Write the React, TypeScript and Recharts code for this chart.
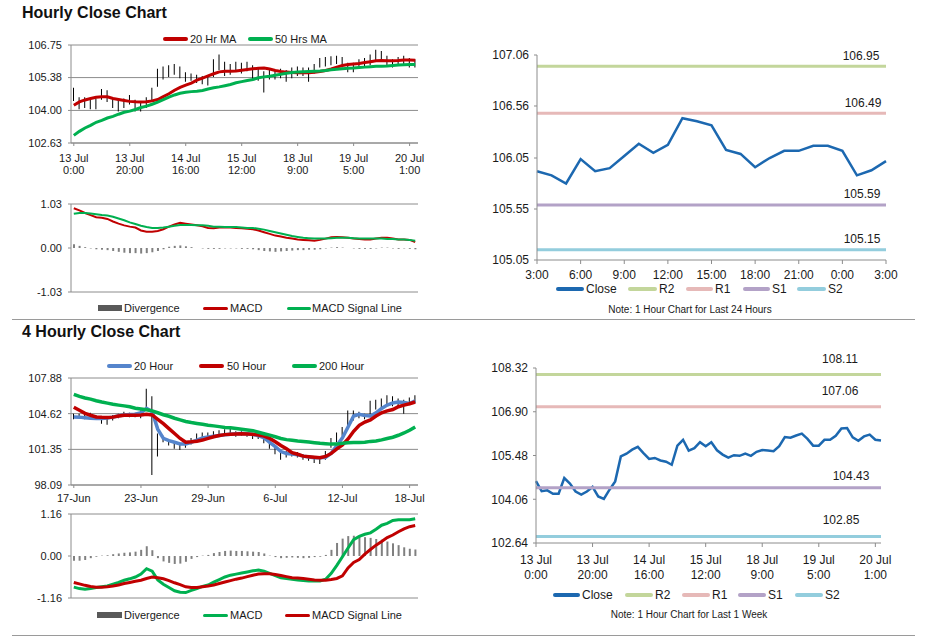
import React from 'react';
import { ComposedChart, LineChart, Line, Bar, XAxis, YAxis, CartesianGrid, ReferenceLine } from 'recharts';

const FONT = 'Arial, "Liberation Sans", Helvetica, sans-serif';
const GRID = '#8c8c8c';
const INK = '#1a1a1a';
const RED = '#c00000';
const GREEN = '#00b050';
const BLUE_MA = '#5585cc';
const CLOSE = '#1c68b0';
const LEVEL_COLORS = ['#c3d69b', '#e6b9b8', '#b3a2c7', '#93cddd'];

// ---- hourly, last week (13 Jul 0:00 -> 20 Jul ~3:00), one point every 2 hours
const weekTickLabels = [
  ['13 Jul', '0:00'], ['13 Jul', '20:00'], ['14 Jul', '16:00'], ['15 Jul', '12:00'],
  ['18 Jul', '9:00'], ['19 Jul', '5:00'], ['20 Jul', '1:00'],
];
const weekTickIdx = [0, 10, 20, 30, 40, 50, 60];
const weekClose = [
  104.65, 104.32, 104.35, 104.24, 104.24, 104.75, 104.57, 104.31, 104.21, 104.31,
  104.46, 104.15, 104.07, 104.37, 104.64, 105.45, 105.54, 105.67, 105.76, 105.56,
  105.37, 105.40, 105.32, 105.28, 105.18, 105.80, 105.99, 105.64, 105.72, 105.91,
  105.78, 105.91, 105.65, 105.51, 105.41, 105.49, 105.47, 105.54, 105.47, 105.60,
  105.66, 105.64, 105.62, 105.78, 106.08, 106.06, 106.13, 106.19, 106.02, 105.80,
  105.80, 105.99, 105.99, 106.12, 106.36, 106.37, 106.07, 105.96, 106.10, 106.16,
  105.99, 105.97,
];
const weekHigh = [
  104.95, 104.55, 104.55, 104.45, 104.50, 104.90, 104.85, 104.55, 104.45, 104.50,
  104.65, 104.45, 104.35, 104.55, 104.95, 105.75, 105.85, 105.90, 105.95, 105.85,
  105.60, 105.55, 105.50, 105.45, 105.45, 106.15, 106.35, 106.05, 105.95, 106.05,
  106.00, 106.05, 105.90, 105.75, 105.65, 105.70, 105.65, 105.75, 105.70, 105.80,
  105.85, 105.80, 105.80, 105.95, 106.20, 106.25, 106.28, 106.30, 106.25, 106.00,
  106.00, 106.15, 106.20, 106.35, 106.55, 106.50, 106.30, 106.15, 106.25, 106.30,
  106.20, 106.15,
];
const weekLow = [
  104.40, 104.05, 104.10, 104.05, 104.05, 104.45, 104.35, 104.10, 103.95, 104.10,
  104.25, 103.95, 103.95, 104.10, 104.35, 105.00, 105.30, 105.40, 105.50, 105.35,
  105.20, 105.25, 105.15, 105.10, 105.05, 105.40, 105.70, 105.45, 105.50, 105.70,
  105.55, 105.65, 105.30, 105.25, 104.75, 105.30, 105.30, 105.35, 105.20, 105.35,
  105.45, 105.45, 105.20, 105.55, 105.80, 105.85, 105.90, 105.95, 105.80, 105.60,
  105.60, 105.75, 105.80, 105.90, 106.10, 106.10, 105.85, 105.80, 105.90, 105.95,
  105.80, 105.80,
];
const ma20W = [
  104.22, 104.36, 104.44, 104.50, 104.55, 104.57, 104.57, 104.50, 104.46, 104.42,
  104.38, 104.36, 104.35, 104.36, 104.40, 104.46, 104.58, 104.70, 104.85, 104.97,
  105.06, 105.15, 105.27, 105.36, 105.45, 105.54, 105.62, 105.65, 105.65, 105.66,
  105.69, 105.72, 105.75, 105.77, 105.78, 105.74, 105.68, 105.64, 105.61, 105.59,
  105.58, 105.58, 105.58, 105.60, 105.64, 105.68, 105.74, 105.82, 105.89, 105.93,
  105.95, 105.97, 106.01, 106.05, 106.09, 106.10, 106.09, 106.09, 106.10, 106.12,
  106.12, 106.11,
];
const ma50W = [
  102.95, 103.12, 103.26, 103.37, 103.50, 103.58, 103.68, 103.75, 103.84, 103.92,
  103.97, 104.04, 104.12, 104.18, 104.26, 104.35, 104.45, 104.56, 104.65, 104.72,
  104.76, 104.79, 104.81, 104.84, 104.90, 104.95, 104.99, 105.04, 105.09, 105.16,
  105.21, 105.26, 105.30, 105.37, 105.41, 105.44, 105.48, 105.52, 105.56, 105.59,
  105.62, 105.63, 105.64, 105.65, 105.66, 105.68, 105.71, 105.73, 105.75, 105.77,
  105.78, 105.80, 105.82, 105.84, 105.86, 105.86, 105.87, 105.89, 105.91, 105.92,
  105.93, 105.93,
];
const macdW = [
  0.93, 0.88, 0.82, 0.77, 0.72, 0.71, 0.68, 0.62, 0.57, 0.53,
  0.50, 0.48, 0.41, 0.38, 0.38, 0.40, 0.44, 0.50, 0.55, 0.59,
  0.57, 0.55, 0.53, 0.51, 0.47, 0.46, 0.48, 0.48, 0.48, 0.47,
  0.46, 0.45, 0.44, 0.41, 0.37, 0.33, 0.29, 0.27, 0.24, 0.22,
  0.20, 0.19, 0.18, 0.17, 0.19, 0.22, 0.25, 0.26, 0.25, 0.24,
  0.22, 0.21, 0.20, 0.20, 0.22, 0.24, 0.24, 0.22, 0.20, 0.20,
  0.19, 0.14,
];
const signalW = [
  0.80, 0.82, 0.82, 0.81, 0.79, 0.77, 0.76, 0.73, 0.69, 0.65,
  0.60, 0.56, 0.52, 0.49, 0.47, 0.47, 0.48, 0.50, 0.52, 0.54,
  0.54, 0.54, 0.53, 0.53, 0.52, 0.50, 0.50, 0.49, 0.49, 0.49,
  0.48, 0.47, 0.47, 0.45, 0.43, 0.40, 0.37, 0.34, 0.31, 0.28,
  0.26, 0.24, 0.23, 0.22, 0.22, 0.22, 0.23, 0.24, 0.24, 0.24,
  0.23, 0.22, 0.22, 0.22, 0.22, 0.22, 0.21, 0.21, 0.20, 0.20,
  0.19, 0.17,
];
const divW = [
  0.09, 0.05, 0.02, -0.01, -0.03, -0.04, -0.05, -0.07, -0.09, -0.11,
  -0.12, -0.12, -0.13, -0.12, -0.10, -0.07, -0.03, 0.03, 0.05, 0.06,
  0.04, 0.02, 0.00, -0.01, -0.02, -0.02, -0.02, -0.01, -0.01, -0.01,
  -0.02, -0.02, -0.03, -0.05, -0.07, -0.08, -0.09, -0.08, -0.07, -0.06,
  -0.05, -0.05, -0.04, -0.04, -0.03, -0.01, 0.01, 0.02, 0.01, 0.00,
  -0.01, -0.02, -0.02, -0.02, -0.01, 0.01, 0.01, -0.01, -0.02, -0.01,
  -0.02, -0.03,
];
const hourPriceTicks = [102.63, 104.0, 105.38, 106.75];
const hourMacdTicks = [-1.03, 0, 1.03];
const weekPriceTicks = [102.64, 104.06, 105.48, 106.9, 108.32];
const weekLevels = [108.11, 107.06, 104.43, 102.85];

// ---- 4 hourly (17 Jun -> 18 Jul)
const fourTickLabels = ['17-Jun', '23-Jun', '29-Jun', '6-Jul', '12-Jul', '18-Jul'];
const fourLow = [
  104.1, 104.2, 104.1, 104.2, 104.1, 103.7, 103.6, 104.0, 104.2, 104.4,
  104.3, 104.3, 104.2, 105.0, 99.0, 100.7, 102.0, 101.7, 101.4, 101.3,
  101.5, 101.8, 102.2, 102.3, 102.4, 102.5, 102.5, 102.6, 102.6, 102.5,
  102.6, 102.5, 102.3, 102.3, 101.9, 101.4, 100.9, 100.4, 100.6, 100.7,
  100.6, 100.4, 100.3, 100.1, 100.0, 100.4, 101.5, 102.0, 102.6, 103.2,
  104.0, 104.2, 104.1, 104.3, 105.0, 105.2, 105.4, 105.3, 105.2, 104.6,
  105.4, 105.6,
];
const fourHigh = [
  104.6, 104.6, 104.5, 104.7, 104.5, 104.2, 104.2, 104.5, 104.6, 104.8,
  104.7, 104.7, 104.9, 106.9, 106.2, 102.8, 102.6, 102.3, 102.0, 101.9,
  102.1, 102.4, 102.8, 102.9, 102.9, 103.0, 103.1, 103.2, 103.3, 103.0,
  103.0, 102.9, 102.8, 102.8, 102.5, 102.0, 101.6, 101.2, 101.2, 101.2,
  101.1, 100.9, 100.8, 100.7, 100.7, 101.2, 102.4, 102.9, 103.4, 104.9,
  104.9, 104.8, 104.6, 105.8, 105.9, 106.0, 106.3, 106.2, 106.0, 105.9,
  106.1, 106.3,
];
const ma20F = [
  104.32, 104.30, 104.25, 104.20, 104.17, 104.17, 104.22, 104.30, 104.42, 104.50,
  104.54, 104.56, 104.70, 105.10, 104.80, 103.20, 102.35, 102.15, 102.00, 101.85,
  101.85, 102.00, 102.20, 102.40, 102.48, 102.55, 102.62, 102.68, 102.74, 102.78,
  102.80, 102.78, 102.72, 102.60, 102.40, 102.00, 101.60, 101.15, 100.98, 100.92,
  100.85, 100.73, 100.65, 100.58, 100.58, 100.62, 101.00, 101.70, 102.40, 103.40,
  104.40, 104.55, 104.45, 104.40, 104.70, 105.10, 105.40, 105.60, 105.68, 105.65,
  105.55, 105.80,
];
const ma50F = [
  105.20, 104.93, 104.65, 104.47, 104.32, 104.28, 104.26, 104.30, 104.40, 104.47,
  104.47, 104.48, 104.50, 104.57, 104.50, 104.10, 103.70, 103.25, 102.80, 102.35,
  102.00, 102.04, 102.10, 102.20, 102.35, 102.50, 102.62, 102.70, 102.74, 102.76,
  102.77, 102.76, 102.74, 102.66, 102.56, 102.35, 102.05, 101.70, 101.40, 101.05,
  100.90, 100.73, 100.68, 100.63, 100.58, 100.70, 100.98, 101.40, 101.75, 102.30,
  103.00, 103.55, 103.85, 104.05, 104.40, 104.70, 104.87, 105.00, 105.25, 105.40,
  105.52, 105.68,
];
const ma200F = [
  106.39, 106.20, 106.05, 105.95, 105.80, 105.68, 105.58, 105.48, 105.40, 105.33,
  105.25, 105.12, 105.05, 104.97, 104.87, 104.70, 104.52, 104.38, 104.20, 104.05,
  103.90, 103.80, 103.72, 103.64, 103.56, 103.50, 103.43, 103.36, 103.32, 103.26,
  103.20, 103.13, 103.06, 102.92, 102.78, 102.65, 102.50, 102.35, 102.24, 102.18,
  102.12, 102.08, 102.02, 101.96, 101.90, 101.86, 101.83, 101.83, 101.90, 101.95,
  101.97, 101.98, 102.00, 102.08, 102.12, 102.22, 102.35, 102.46, 102.64, 102.85,
  103.10, 103.40,
];
const macdF = [
  -0.86, -0.90, -0.92, -0.90, -0.87, -0.85, -0.83, -0.78, -0.73, -0.67,
  -0.63, -0.58, -0.50, -0.35, -0.42, -0.66, -0.78, -0.87, -0.96, -1.00,
  -1.01, -0.95, -0.90, -0.84, -0.80, -0.72, -0.65, -0.58, -0.53, -0.50,
  -0.47, -0.44, -0.41, -0.39, -0.42, -0.48, -0.54, -0.60, -0.62, -0.64,
  -0.66, -0.68, -0.69, -0.69, -0.69, -0.64, -0.48, -0.26, -0.02, 0.22,
  0.45, 0.54, 0.60, 0.64, 0.74, 0.85, 0.90, 0.98, 1.00, 1.00,
  1.00, 1.03,
];
const signalF = [
  -0.73, -0.77, -0.81, -0.84, -0.86, -0.86, -0.85, -0.83, -0.80, -0.76,
  -0.73, -0.70, -0.67, -0.62, -0.58, -0.60, -0.63, -0.68, -0.74, -0.79,
  -0.85, -0.87, -0.87, -0.85, -0.83, -0.80, -0.76, -0.72, -0.68, -0.64,
  -0.61, -0.57, -0.53, -0.50, -0.49, -0.49, -0.51, -0.54, -0.57, -0.60,
  -0.61, -0.62, -0.64, -0.66, -0.67, -0.67, -0.65, -0.62, -0.55, -0.33,
  -0.18, -0.10, 0.05, 0.18, 0.30, 0.40, 0.51, 0.58, 0.67, 0.75,
  0.81, 0.84,
];
const divF = [
  -0.13, -0.13, -0.11, -0.06, -0.02, 0.01, 0.02, 0.05, 0.07, 0.09,
  0.10, 0.12, 0.17, 0.27, 0.16, -0.06, -0.15, -0.19, -0.22, -0.21,
  -0.16, -0.08, -0.03, 0.01, 0.03, 0.08, 0.11, 0.14, 0.15, 0.14,
  0.14, 0.13, 0.12, 0.11, 0.07, 0.01, -0.03, -0.06, -0.05, -0.04,
  -0.05, -0.06, -0.05, -0.03, -0.02, 0.03, 0.17, 0.36, 0.48, 0.55,
  0.56, 0.54, 0.52, 0.50, 0.47, 0.45, 0.40, 0.35, 0.30, 0.24,
  0.20, 0.18,
];
const fourPriceTicks = [98.09, 101.35, 104.62, 107.88];
const fourMacdTicks = [-1.16, 0, 1.16];

// ---- hourly, last 24 hours
const dayTickLabels = ['3:00', '6:00', '9:00', '12:00', '15:00', '18:00', '21:00', '0:00', '3:00'];
const dayTickIdx = [0, 3, 6, 9, 12, 15, 18, 21, 24];
const dayClose = [
  105.92, 105.88, 105.80, 106.04, 105.92, 105.95, 106.07, 106.19, 106.10, 106.18,
  106.44, 106.41, 106.37, 106.13, 106.09, 105.96, 106.05, 106.12, 106.12, 106.17,
  106.17, 106.12, 105.88, 105.93, 106.02,
];
const dayPriceTicks = [105.05, 105.55, 106.05, 106.56, 107.06];
const dayLevels = [106.95, 106.49, 105.59, 105.15];
const levelNames = ['R2', 'R1', 'S1', 'S2'];

const weekRows = weekClose.map((c, i) => ({
  i,
  close: c,
  range: [weekLow[i], weekHigh[i]],
  ma20: ma20W[i],
  ma50: ma50W[i],
  macd: macdW[i],
  signal: signalW[i],
  div: divW[i],
}));
const fourRows = ma20F.map((v, i) => ({
  i,
  range: [fourLow[i], fourHigh[i]],
  ma20: v,
  ma50: ma50F[i],
  ma200: ma200F[i],
  macd: macdF[i],
  signal: signalF[i],
  div: divF[i],
}));
const dayRows = dayClose.map((c, i) => ({ i, close: c }));

const fmt = (v: number) => Number(v).toFixed(2);
const axisStyle = { stroke: GRID };

function TwoLineTick(props: any) {
  const { x, y, payload, labels, step, b1, b2, size } = props;
  const lab = labels[Math.round(payload.value / step)];
  if (!lab) return null;
  return (
    <g>
      <text x={x} y={y + b1} textAnchor="middle" fontSize={size} fill={INK}>{lab[0]}</text>
      <text x={x} y={y + b2} textAnchor="middle" fontSize={size} fill={INK}>{lab[1]}</text>
    </g>
  );
}

function OneLineTick(props: any) {
  const { x, y, payload, labels, step, b1, size } = props;
  const lab = labels[Math.round(payload.value / step)];
  if (lab === undefined) return null;
  return <text x={x} y={y + b1} textAnchor="middle" fontSize={size} fill={INK}>{lab}</text>;
}

function LevelLabel(props: any) {
  const { viewBox, text, dx, dy } = props;
  if (!viewBox) return null;
  return (
    <text x={viewBox.x + viewBox.width + dx} y={viewBox.y - dy} textAnchor="middle" fontSize={12} fill={INK}>
      {text}
    </text>
  );
}

type Item = { label: string; color: string; x0: number; x1: number; tx: number; h: number; box?: boolean };

function SwatchLegend({ items, y, size }: { items: Item[]; y: number; size: number }) {
  return (
    <>
      {items.map((it) => (
        <React.Fragment key={it.label}>
          <div
            style={{
              position: 'absolute', left: it.x0, top: y - it.h / 2, width: it.x1 - it.x0, height: it.h,
              background: it.color, borderRadius: it.box ? 0 : it.h / 2,
            }}
          />
          <div
            style={{
              position: 'absolute', left: it.tx, top: y - size * 0.47, fontSize: size,
              lineHeight: `${size}px`, whiteSpace: 'nowrap', color: INK,
            }}
          >
            {it.label}
          </div>
        </React.Fragment>
      ))}
    </>
  );
}

const at = (left: number, top: number) => ({ position: 'absolute' as const, left, top });

export default function App() {
  return (
    <div style={{ position: 'absolute', left: 0, top: 0, width: 928, height: 638, background: '#fff', fontFamily: FONT, overflow: 'hidden' }}>
      <div style={{ ...at(22, 4), fontSize: 16, lineHeight: '18px', fontWeight: 'bold', color: '#111' }}>Hourly Close Chart</div>
      <div style={{ ...at(22, 323), fontSize: 16, lineHeight: '18px', fontWeight: 'bold', color: '#111' }}>4 Hourly Close Chart</div>
      <div style={{ ...at(12, 319), width: 903, height: 1, background: '#9a9a9a' }} />
      <div style={{ ...at(12, 635), width: 903, height: 1, background: '#9a9a9a' }} />

      {/* hourly price with MAs */}
      <div style={at(0, 0)}>
        <ComposedChart width={460} height={185} data={weekRows} margin={{ top: 45, right: 42, bottom: 2, left: 0 }}>
          <CartesianGrid vertical={false} stroke={GRID} />
          <XAxis
            dataKey="i" interval={9} height={40} tickSize={3} tickMargin={2} axisLine={axisStyle} tickLine={axisStyle}
            tick={(p: any) => <TwoLineTick {...p} labels={weekTickLabels} step={10} b1={13.5} b2={26} size={11} />}
          />
          <YAxis
            width={71} domain={[102.63, 106.75]} ticks={hourPriceTicks} interval={0} tickSize={3} tickMargin={6}
            axisLine={axisStyle} tickLine={axisStyle} tick={{ fontSize: 11, fill: INK }} tickFormatter={fmt}
          />
          <YAxis yAxisId="edge" orientation="right" width={0} tick={false} tickLine={false} axisLine={axisStyle} />
          <Bar dataKey="range" barSize={1} fill="#000" isAnimationActive={false} />
          <Line dataKey="ma20" stroke={RED} strokeWidth={3} dot={false} isAnimationActive={false} />
          <Line dataKey="ma50" stroke={GREEN} strokeWidth={3} dot={false} isAnimationActive={false} />
        </ComposedChart>
      </div>
      <SwatchLegend
        y={39} size={11}
        items={[
          { label: '20 Hr MA', color: RED, x0: 163, x1: 188, tx: 190, h: 4 },
          { label: '50 Hrs MA', color: GREEN, x0: 248, x1: 273, tx: 275, h: 4 },
        ]}
      />

      {/* hourly MACD */}
      <div style={at(0, 185)}>
        <ComposedChart width={460} height={135} data={weekRows} margin={{ top: 19, right: 42, bottom: 28, left: 0 }}>
          <XAxis dataKey="i" hide />
          <YAxis
            width={71} domain={[-1.03, 1.03]} ticks={hourMacdTicks} interval={0} tickSize={3} tickMargin={6}
            axisLine={axisStyle} tickLine={axisStyle} tick={{ fontSize: 11, fill: INK }} tickFormatter={fmt}
          />
          <YAxis yAxisId="edge" orientation="right" width={0} tick={false} tickLine={false} axisLine={axisStyle} />
          <ReferenceLine y={1.03} stroke={GRID} />
          <ReferenceLine y={-1.03} stroke={GRID} />
          <Bar dataKey="div" barSize={2} fill="#808080" isAnimationActive={false} />
          <Line dataKey="macd" stroke={RED} strokeWidth={2} dot={false} isAnimationActive={false} />
          <Line dataKey="signal" stroke={GREEN} strokeWidth={2} dot={false} isAnimationActive={false} />
        </ComposedChart>
      </div>
      <SwatchLegend
        y={308} size={11}
        items={[
          { label: 'Divergence', color: '#595959', x0: 98, x1: 122, tx: 124, h: 6, box: true },
          { label: 'MACD', color: RED, x0: 203, x1: 228, tx: 230, h: 3 },
          { label: 'MACD Signal Line', color: GREEN, x0: 287, x1: 311, tx: 312, h: 3 },
        ]}
      />

      {/* 4 hourly price with MAs */}
      <div style={at(0, 320)}>
        <ComposedChart width={460} height={185} data={fourRows} margin={{ top: 58, right: 42, bottom: 0, left: 0 }}>
          <CartesianGrid vertical={false} stroke={GRID} />
          <XAxis
            dataKey="i" interval={11} height={20} tickSize={3} tickMargin={2} axisLine={axisStyle} tickLine={axisStyle}
            tick={(p: any) => <OneLineTick {...p} labels={fourTickLabels} step={12} b1={11.5} size={11} />}
          />
          <YAxis
            width={71} domain={[98.09, 107.88]} ticks={fourPriceTicks} interval={0} tickSize={3} tickMargin={6}
            axisLine={axisStyle} tickLine={axisStyle} tick={{ fontSize: 11, fill: INK }} tickFormatter={fmt}
          />
          <YAxis yAxisId="edge" orientation="right" width={0} tick={false} tickLine={false} axisLine={axisStyle} />
          <Bar dataKey="range" barSize={1} fill="#000" isAnimationActive={false} />
          <Line dataKey="ma20" stroke={BLUE_MA} strokeWidth={3.5} dot={false} isAnimationActive={false} />
          <Line dataKey="ma50" stroke={RED} strokeWidth={3.5} dot={false} isAnimationActive={false} />
          <Line dataKey="ma200" stroke={GREEN} strokeWidth={3.5} dot={false} isAnimationActive={false} />
        </ComposedChart>
      </div>
      <SwatchLegend
        y={366} size={11}
        items={[
          { label: '20 Hour', color: BLUE_MA, x0: 107, x1: 132, tx: 134, h: 4 },
          { label: '50 Hour', color: RED, x0: 199, x1: 224, tx: 227, h: 4 },
          { label: '200 Hour', color: GREEN, x0: 292, x1: 317, tx: 319, h: 4 },
        ]}
      />

      {/* 4 hourly MACD */}
      <div style={at(0, 505)}>
        <ComposedChart width={460} height={133} data={fourRows} margin={{ top: 9, right: 42, bottom: 40, left: 0 }}>
          <XAxis dataKey="i" hide />
          <YAxis
            width={71} domain={[-1.16, 1.16]} ticks={fourMacdTicks} interval={0} tickSize={3} tickMargin={6}
            axisLine={axisStyle} tickLine={axisStyle} tick={{ fontSize: 11, fill: INK }} tickFormatter={fmt}
          />
          <YAxis yAxisId="edge" orientation="right" width={0} tick={false} tickLine={false} axisLine={axisStyle} />
          <ReferenceLine y={1.16} stroke={GRID} />
          <ReferenceLine y={-1.16} stroke={GRID} />
          <Bar dataKey="div" barSize={2} fill="#808080" isAnimationActive={false} />
          <Line dataKey="macd" stroke={GREEN} strokeWidth={3} dot={false} isAnimationActive={false} />
          <Line dataKey="signal" stroke={RED} strokeWidth={3} dot={false} isAnimationActive={false} />
        </ComposedChart>
      </div>
      <SwatchLegend
        y={615} size={11}
        items={[
          { label: 'Divergence', color: '#595959', x0: 97, x1: 122, tx: 124, h: 6, box: true },
          { label: 'MACD', color: GREEN, x0: 203, x1: 228, tx: 230, h: 3 },
          { label: 'MACD Signal Line', color: RED, x0: 285, x1: 310, tx: 312, h: 3 },
        ]}
      />

      {/* last 24 hours with pivot levels */}
      <div style={at(460, 30)}>
        <LineChart width={468} height={290} data={dayRows} margin={{ top: 25, right: 42, bottom: 40, left: 0 }}>
          <XAxis
            dataKey="i" type="number" domain={[0, 24]} ticks={dayTickIdx} interval={0} height={20} tickSize={4} tickMargin={1}
            axisLine={axisStyle} tickLine={axisStyle}
            tick={(p: any) => <OneLineTick {...p} labels={dayTickLabels} step={3} b1={14} size={12} />}
          />
          <YAxis
            width={77} domain={[105.05, 107.06]} ticks={dayPriceTicks} interval={0} tickSize={3} tickMargin={5}
            axisLine={axisStyle} tickLine={axisStyle} tick={{ fontSize: 12, fill: INK }} tickFormatter={fmt}
          />
          <Line dataKey="close" stroke={CLOSE} strokeWidth={2.5} dot={false} isAnimationActive={false} />
          {dayLevels.map((v, k) => (
            <ReferenceLine
              key={levelNames[k]} y={v} stroke={LEVEL_COLORS[k]} strokeWidth={3}
              label={<LevelLabel text={fmt(v)} dx={[-25, -23, -24, -24][k]} dy={6.5} />}
            />
          ))}
        </LineChart>
      </div>
      <SwatchLegend
        y={289} size={12}
        items={[
          { label: 'Close', color: CLOSE, x0: 556, x1: 584, tx: 586, h: 4 },
          { label: levelNames[0], color: LEVEL_COLORS[0], x0: 628, x1: 657, tx: 659, h: 4 },
          { label: levelNames[1], color: LEVEL_COLORS[1], x0: 686, x1: 713, tx: 715, h: 4 },
          { label: levelNames[2], color: LEVEL_COLORS[2], x0: 743, x1: 770, tx: 772, h: 4 },
          { label: levelNames[3], color: LEVEL_COLORS[3], x0: 797, x1: 826, tx: 828, h: 4 },
        ]}
      />
      <div style={{ ...at(540, 303), width: 300, textAlign: 'center', fontSize: 10, lineHeight: '13px', color: INK }}>
        Note: 1 Hour Chart for Last 24 Hours
      </div>

      {/* last week with pivot levels */}
      <div style={at(460, 340)}>
        <LineChart width={468} height={290} data={weekRows} margin={{ top: 28, right: 47, bottom: 47, left: 0 }}>
          <XAxis
            dataKey="i" type="number" domain={[0, 61]} ticks={weekTickIdx} interval={0} height={40} tickSize={4} tickMargin={1}
            axisLine={axisStyle} tickLine={axisStyle}
            tick={(p: any) => <TwoLineTick {...p} labels={weekTickLabels} step={10} b1={16} b2={31} size={12} />}
          />
          <YAxis
            width={76} domain={[102.64, 108.32]} ticks={weekPriceTicks} interval={0} tickSize={3} tickMargin={5}
            axisLine={axisStyle} tickLine={axisStyle} tick={{ fontSize: 12, fill: INK }} tickFormatter={fmt}
          />
          <Line dataKey="close" stroke={CLOSE} strokeWidth={2.5} dot={false} isAnimationActive={false} />
          {weekLevels.map((v, k) => (
            <ReferenceLine
              key={levelNames[k]} y={v} stroke={LEVEL_COLORS[k]} strokeWidth={3}
              label={<LevelLabel text={fmt(v)} dx={[-41, -41, -30, -40][k]} dy={[11, 12, 7.5, 12.5][k]} />}
            />
          ))}
        </LineChart>
      </div>
      <SwatchLegend
        y={595} size={12}
        items={[
          { label: 'Close', color: CLOSE, x0: 553, x1: 580, tx: 582, h: 4 },
          { label: levelNames[0], color: LEVEL_COLORS[0], x0: 625, x1: 653, tx: 655, h: 4 },
          { label: levelNames[1], color: LEVEL_COLORS[1], x0: 682, x1: 710, tx: 712, h: 4 },
          { label: levelNames[2], color: LEVEL_COLORS[2], x0: 738, x1: 766, tx: 768, h: 4 },
          { label: levelNames[3], color: LEVEL_COLORS[3], x0: 795, x1: 823, tx: 825, h: 4 },
        ]}
      />
      <div style={{ ...at(539, 608), width: 300, textAlign: 'center', fontSize: 10, lineHeight: '13px', color: INK }}>
        Note: 1 Hour Chart for Last 1 Week
      </div>
    </div>
  );
}
